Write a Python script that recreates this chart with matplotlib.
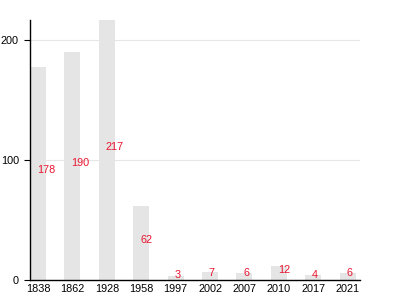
import matplotlib
matplotlib.use("Agg")
import matplotlib.pyplot as plt
import numpy as np

years = ["1838", "1862", "1928", "1958", "1997", "2002", "2007", "2010", "2017", "2021"]
values = [178, 190, 217, 62, 3, 7, 6, 12, 4, 6]
yticks = [0, 100, 200]

plt.rcParams['font.family'] = ['Liberation Sans', 'DejaVu Sans']

fig = plt.figure(figsize=(4, 3), dpi=100)
ax = fig.add_axes([0.075, 0.0667, 0.825, 0.8666])

x = np.arange(len(years))
bw = 0.465
ax.bar(x, values, width=bw, color='#e5e5e5', zorder=2)
for xi, v in zip(x, values):
    ax.text(xi - 0.03, v / 2, str(v), color='#e8152f', fontsize=7.8,
            ha='left', va='baseline', zorder=3)

ax.set_xlim(-0.233, 9.36)
ax.set_ylim(0, 217)
ax.set_yticks(yticks)
ax.set_xticks(x)
ax.set_xticklabels(years)
ax.tick_params(axis='x', length=0, pad=3, labelsize=7.8)
ax.tick_params(axis='y', length=4, width=0.8, pad=4, labelsize=7.8)
ax.yaxis.grid(True, color='#e6e6e6', linewidth=0.8, zorder=0)
ax.set_axisbelow(True)
for s in ['top', 'right']:
    ax.spines[s].set_visible(False)
ax.spines['left'].set_linewidth(1)
ax.spines['bottom'].set_linewidth(1)

fig.savefig('out.png', dpi=100)
